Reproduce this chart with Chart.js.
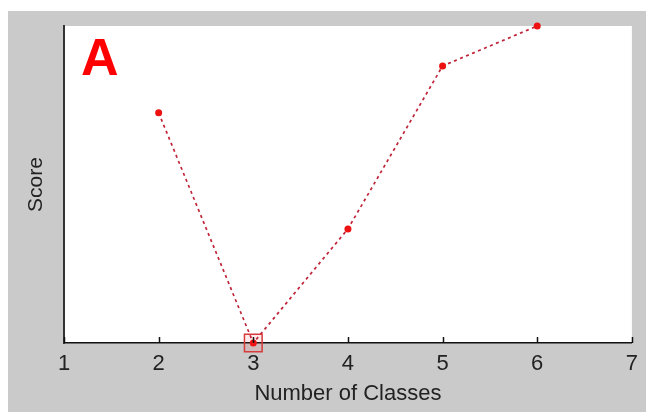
<!DOCTYPE html>
<html>
<head>
<meta charset="utf-8">
<script src="https://cdn.jsdelivr.net/npm/chart.js@4/dist/chart.umd.min.js"></script>
<style>
  html, body { margin: 0; padding: 0; background: #fff; }
  #wrap { position: absolute; left: 0; top: 0; width: 646px; height: 412px; }
</style>
</head>
<body>
<div id="wrap"><canvas id="scoreChart" width="646" height="412"></canvas></div>
<script>
const classes = [2, 3, 4, 5, 6];
const scores = [0.726, 0.0, 0.36, 0.874, 1.0];
const bestClasses = [3];
const xTicks = [1, 2, 3, 4, 5, 6, 7];
const panelLabel = "A";

const FONT = "'Liberation Sans', Arial, sans-serif";

const linePoints = classes.map((c, i) => ({ x: c, y: scores[i] }));
const bestPoints = bestClasses.map((c) => ({ x: c, y: scores[classes.indexOf(c)] }));

// grey figure backdrop + white axes box
const backdrop = {
  id: "backdrop",
  beforeDraw(chart) {
    const { ctx, chartArea: a } = chart;
    ctx.save();
    ctx.fillStyle = "#ffffff";
    ctx.fillRect(0, 0, chart.width, chart.height);
    ctx.fillStyle = "#cacaca";
    ctx.fillRect(8, 11, chart.width - 8, chart.height - 11);
    ctx.fillStyle = "#ffffff";
    ctx.fillRect(a.left, a.top, a.right - a.left, a.bottom - a.top);
    ctx.restore();
  }
};

// short ticks pointing into the plot, plus the panel letter
const extras = {
  id: "extras",
  afterDraw(chart) {
    const { ctx, chartArea: a } = chart;
    const xs = chart.scales.x;
    ctx.save();
    ctx.strokeStyle = "#111";
    ctx.lineWidth = 1.5;
    xTicks.forEach((t) => {
      const px = Math.round(xs.getPixelForValue(t)) + 0.5;
      ctx.beginPath();
      ctx.moveTo(px, a.bottom);
      ctx.lineTo(px, a.bottom - 6);
      ctx.stroke();
    });
    ctx.fillStyle = "#ff0000";
    ctx.font = "bold 52px " + FONT;
    ctx.textBaseline = "alphabetic";
    ctx.fillText(panelLabel, 81, 75);
    ctx.restore();
  }
};

new Chart(document.getElementById("scoreChart"), {
  type: "scatter",
  data: {
    datasets: [
      {
        data: bestPoints,
        showLine: false,
        pointStyle: "rect",
        pointRadius: 12.5,
        pointBorderWidth: 1.5,
        pointBorderColor: "#d63a3a",
        pointBackgroundColor: "rgba(255,60,60,0.10)",
        clip: false
      },
      {
        data: linePoints,
        showLine: true,
        borderColor: "#c02438",
        borderWidth: 1.7,
        borderDash: [3, 3.5],
        pointRadius: 3.5,
        pointBorderWidth: 0,
        pointBackgroundColor: "#ee1111",
        clip: false
      }
    ]
  },
  options: {
    responsive: false,
    animation: false,
    layout: { padding: { top: 26, right: 9, bottom: 0, left: 0 } },
    plugins: { legend: { display: false }, tooltip: { enabled: false } },
    scales: {
      x: {
        type: "linear",
        min: 1,
        max: 7,
        afterBuildTicks: (s) => { s.ticks = xTicks.map((v) => ({ value: v })); },
        afterFit: (s) => { s.height = 69; },
        grid: { display: false, drawTicks: false },
        border: { display: true, color: "#111", width: 1.5 },
        ticks: { color: "#222", font: { family: FONT, size: 22 }, padding: 8, maxRotation: 0 },
        title: {
          display: true,
          text: "Number of Classes",
          color: "#222",
          font: { family: FONT, size: 22 },
          padding: { top: 0, bottom: 5 }
        }
      },
      y: {
        type: "linear",
        min: 0,
        max: 1,
        afterFit: (s) => { s.width = 64; },
        grid: { display: false, drawTicks: false },
        border: { display: true, color: "#333", width: 2 },
        ticks: { display: false },
        title: {
          display: true,
          text: "Score",
          color: "#222",
          font: { family: FONT, size: 21 },
          padding: { top: 24, bottom: 0 }
        }
      }
    }
  },
  plugins: [backdrop, extras]
});
</script>
</body>
</html>
